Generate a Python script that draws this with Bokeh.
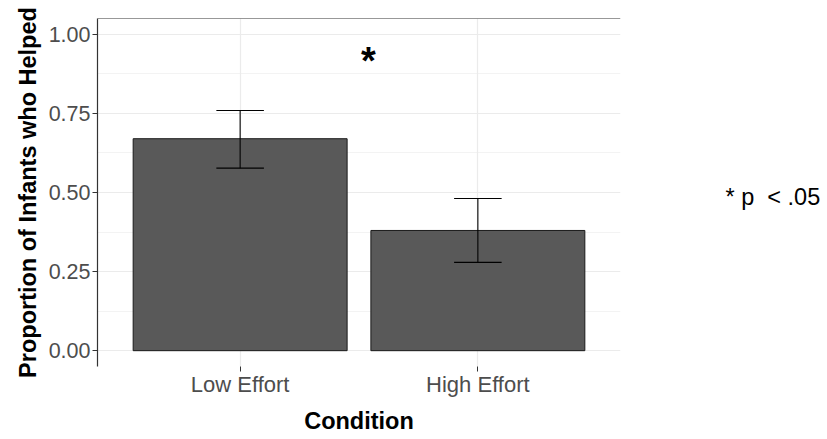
from bokeh.plotting import figure
from bokeh.models import Range1d, FixedTicker, Span, LinearAxis, Title
from bokeh.embed import file_html
from bokeh.resources import INLINE
from bokeh.core.properties import value

# ---- data ----
conditions = ["Low Effort", "High Effort"]
proportions = [0.67, 0.38]
err_lower = [0.577, 0.279]
err_upper = [0.759, 0.481]
y_ticks = [0.0, 0.25, 0.5, 0.75, 1.0]
y_tick_labels = ["0.00", "0.25", "0.50", "0.75", "1.00"]
sig_label = "*"
sig_x = [1.54]
sig_y = [0.916]
note_text = "* p\u00a0 < .05"
note_y = 0.486
y_title = "Proportion of Infants who Helped"
x_title = "Condition"

xs = [i + 1 for i in range(len(conditions))]
bar_width = 0.9
cap_width = 0.2

FONT = "Liberation Sans"

p = figure(width=827, height=439, output_backend="svg", toolbar_location=None,
           x_range=Range1d(0.4, 2.6), y_range=Range1d(-0.05, 1.05),
           min_border_left=97, min_border_right=207, min_border_top=18,
           min_border_bottom=73)
p.outline_line_color = None
p.background_fill_color = "white"
p.border_fill_color = "white"

# grids
p.ygrid.ticker = FixedTicker(ticks=y_ticks,
                             minor_ticks=[(a + b) / 2 for a, b in zip(y_ticks[:-1], y_ticks[1:])])
p.ygrid.grid_line_color = "#ebebeb"
p.ygrid.grid_line_width = 1.2
p.ygrid.minor_grid_line_color = "#ebebeb"
p.ygrid.minor_grid_line_width = 0.6
p.xgrid.ticker = FixedTicker(ticks=xs)
p.xgrid.grid_line_color = "#ebebeb"
p.xgrid.grid_line_width = 1.2

# bars
p.vbar(x=xs, top=proportions, bottom=0, width=bar_width,
       fill_color="#595959", line_color="#1a1a1a", line_width=1)

# error bars
p.segment(x0=xs, x1=xs, y0=err_lower, y1=err_upper, line_color="black", line_width=1.1)
p.segment(x0=[x - cap_width / 2 for x in xs], x1=[x + cap_width / 2 for x in xs],
          y0=err_upper, y1=err_upper, line_color="black", line_width=1.1)
p.segment(x0=[x - cap_width / 2 for x in xs], x1=[x + cap_width / 2 for x in xs],
          y0=err_lower, y1=err_lower, line_color="black", line_width=1.1)

# significance star
p.text(x=sig_x, y=sig_y, text=[sig_label], text_font=value(FONT), text_font_style="bold",
       text_font_size="38px", text_align="center", text_baseline="alphabetic", text_color="black")

# top border line
p.add_layout(Span(location=1.05, dimension="width", line_color="#333333", line_width=1.2))

# y axis
ya = p.yaxis[0]
ya.ticker = FixedTicker(ticks=y_ticks)
ya.major_label_overrides = {t: l for t, l in zip(y_ticks, y_tick_labels)}
ya.axis_line_color = "#333333"
ya.axis_line_width = 1.2
ya.major_tick_line_color = "#333333"
ya.major_tick_out = 5
ya.major_tick_in = 0
ya.minor_tick_line_color = None
ya.major_label_standoff = 2
ya.major_label_text_font = FONT
ya.major_label_text_font_size = "21.5px"
ya.major_label_text_color = "#4d4d4d"

# y title (as a side title so it can be nudged along the axis)
p.add_layout(Title(text=y_title, align="center", offset=-5.5, text_font=FONT,
                   text_font_style="bold", text_font_size="23.5px", text_color="black",
                   standoff=10), "left")

# x axis
xa = p.xaxis[0]
xa.ticker = FixedTicker(ticks=xs)
xa.major_label_overrides = {x: c for x, c in zip(xs, conditions)}
xa.axis_line_color = None
xa.major_tick_line_color = "#333333"
xa.major_tick_out = 5
xa.major_tick_in = 0
xa.minor_tick_line_color = None
xa.major_label_standoff = 0
xa.major_label_text_font = FONT
xa.major_label_text_font_size = "22px"
xa.major_label_text_color = "#4d4d4d"
xa.axis_label = x_title
xa.axis_label_text_font = FONT
xa.axis_label_text_font_style = "bold"
xa.axis_label_text_font_size = "23.5px"
xa.axis_label_text_color = "black"
xa.axis_label_standoff = 8

# note on the right (as a label-only axis so it sits outside the panel)
na = LinearAxis(ticker=FixedTicker(ticks=[note_y]),
                major_label_overrides={note_y: note_text})
na.axis_line_color = None
na.major_tick_line_color = None
na.minor_tick_line_color = None
na.major_tick_out = 0
na.major_tick_in = 0
na.major_label_standoff = 105
na.major_label_text_font = FONT
na.major_label_text_font_size = "23.5px"
na.major_label_text_color = "black"
p.add_layout(na, "right")

open("out.html", "w").write(file_html(p, INLINE))
